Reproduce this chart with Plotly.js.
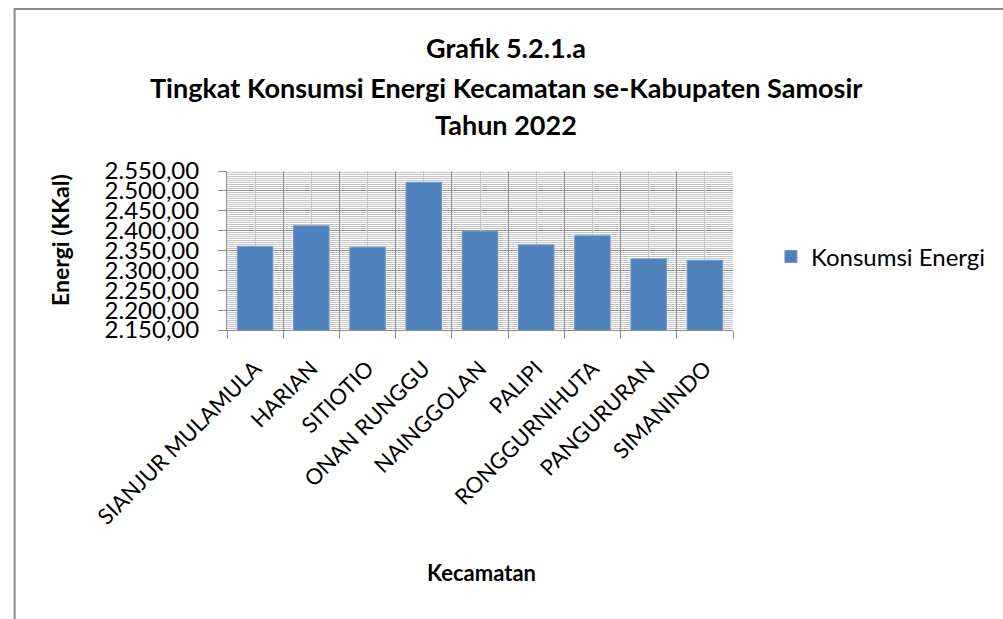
<!DOCTYPE html>
<html>
<head>
<meta charset="utf-8">
<script src="https://cdn.plot.ly/plotly-3.0.1.min.js"></script>
<style>
  body { margin: 0; background: #fff; }
  #chart { width: 1003px; height: 619px; }
</style>
</head>
<body>
<div id="chart"></div>
<script>
var kecamatan = ["SIANJUR MULAMULA", "HARIAN", "SITIOTIO", "ONAN RUNGGU", "NAINGGOLAN",
  "PALIPI", "RONGGURNIHUTA", "PANGURURAN", "SIMANINDO"];
var konsumsi = [2360.5, 2412.3, 2358.4, 2521.6, 2398.2, 2364.1, 2386.9, 2328.7, 2325.3];
var seriesName = "Konsumsi Energi";
var titleLines = ["Grafik 5.2.1.a",
  "Tingkat Konsumsi Energi Kecamatan se-Kabupaten Samosir",
  "Tahun 2022"];
var yTitle = "Energi (KKal)";
var xTitle = "Kecamatan";

var font = "Lato, 'Open Sans', sans-serif";
var barColor = "#4F81BD";
var darkGrid = "#8c8c8c";
var lightGrid = "#c4c4c4";

var traces = [
  {
    x: kecamatan,
    y: konsumsi,
    type: "bar",
    name: seriesName,
    marker: { color: barColor, line: { color: "#6f96c8", width: 1 } },
    hoverinfo: "x+y",
  },
  {
    // only here so the second x axis (light centre lines) gets drawn
    x: kecamatan,
    y: konsumsi,
    xaxis: "x2",
    type: "scatter",
    mode: "none",
    showlegend: false,
    hoverinfo: "skip",
  },
];

// title lines as annotations, spacing is wider than plotly's line height
var titleY = [1.774, 1.528, 1.29];
var annotations = titleLines.map(function (t, i) {
  return {
    text: "<b>" + t + "</b>",
    xref: "paper",
    yref: "paper",
    x: 0.551,
    y: titleY[i],
    xanchor: "center",
    yanchor: "middle",
    showarrow: false,
    font: { family: font, size: 27, color: "#000" },
  };
});
// axis titles, placed where the original has them
annotations.push({
  text: "<b>" + yTitle + "</b>",
  xref: "paper",
  yref: "paper",
  x: -0.33,
  y: 0.566,
  textangle: -90,
  xanchor: "center",
  yanchor: "middle",
  showarrow: false,
  font: { family: font, size: 23, color: "#000" },
});
annotations.push({
  text: "<b>" + xTitle + "</b>",
  xref: "paper",
  yref: "paper",
  x: 0.503,
  y: -1.528,
  xanchor: "center",
  yanchor: "middle",
  showarrow: false,
  font: { family: font, size: 22, color: "#000" },
});

var layout = {
  width: 1003,
  height: 619,
  margin: { l: 227, r: 259, t: 171, b: 289 },
  paper_bgcolor: "#fff",
  plot_bgcolor: "#fff",
  separators: ",.",
  font: { family: font, color: "#000" },
  bargap: 0.37,
  showlegend: true,
  legend: {
    x: 1.075,
    y: 0.46,
    xanchor: "left",
    yanchor: "middle",
    font: { family: font, size: 24, color: "#000" },
    itemwidth: 30,
  },
  xaxis: {
    type: "category",
    categoryorder: "array",
    categoryarray: kecamatan,
    range: [-0.5, 8.5],
    tickson: "boundaries",
    ticks: "outside",
    ticklen: 8,
    tickcolor: darkGrid,
    showgrid: true,
    gridcolor: darkGrid,
    showline: true,
    linecolor: darkGrid,
    linewidth: 1,
    tickangle: -45,
    ticklabelstandoff: 16,
    tickfont: { family: font, size: 22, color: "#000" },
    automargin: false,
  },
  xaxis2: {
    type: "category",
    categoryorder: "array",
    categoryarray: kecamatan,
    range: [-0.5, 8.5],
    overlaying: "x",
    side: "bottom",
    showgrid: true,
    gridcolor: lightGrid,
    showticklabels: false,
    ticks: "",
    showline: false,
  },
  yaxis: {
    range: [2150, 2550],
    dtick: 50,
    tick0: 2150,
    tickformat: ",.2f",
    ticks: "outside",
    ticklen: 8,
    tickcolor: darkGrid,
    showgrid: true,
    gridcolor: darkGrid,
    showline: true,
    linecolor: darkGrid,
    zeroline: false,
    minor: { dtick: 5, showgrid: true, gridcolor: lightGrid, ticks: "" },
    ticklabelstandoff: 14,
    tickfont: { family: font, size: 24, color: "#000" },
    automargin: false,
  },
  annotations: annotations,
  shapes: [
    {
      // outer chart frame (left and top edges are visible)
      type: "rect",
      xref: "paper",
      yref: "paper",
      x0: -0.4197,
      x1: 2.5,
      y0: -2.5,
      y1: 2.019,
      line: { color: "#8a8a8a", width: 2 },
      layer: "below",
    },
  ],
};

Plotly.newPlot("chart", traces, layout, { displayModeBar: false, staticPlot: true });
</script>
</body>
</html>
